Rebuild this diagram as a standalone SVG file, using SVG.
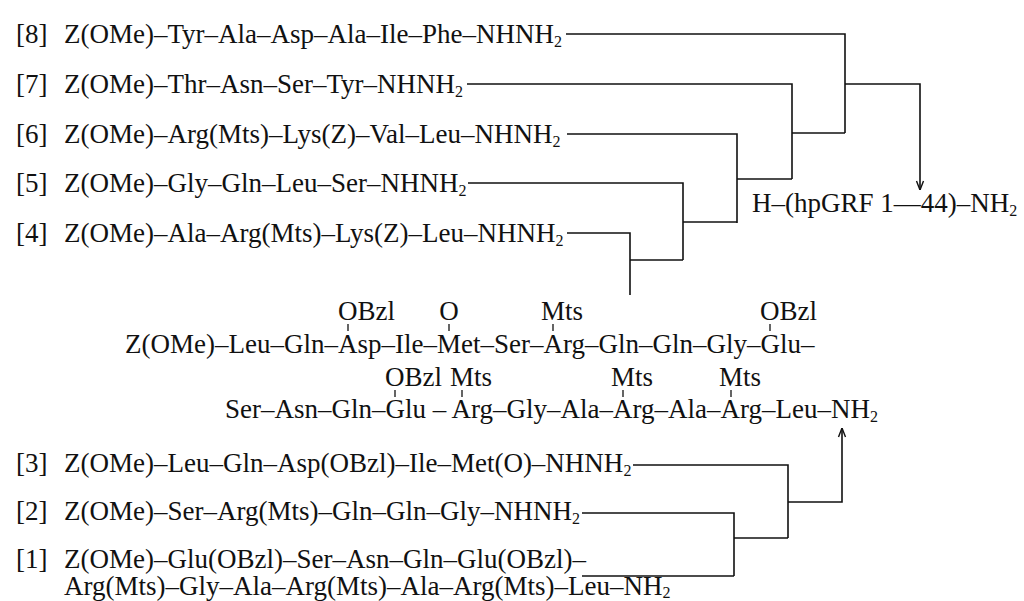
<svg xmlns="http://www.w3.org/2000/svg" width="1024" height="601" viewBox="0 0 1024 601">
<style>
text{font-family:"Liberation Serif","Times New Roman",serif;font-size:27px;fill:#111}
.sub{font-size:16px}
.c{fill:none;stroke:#111;stroke-width:1.6}
.tk{stroke:#111;stroke-width:1.3}
</style>
<defs>
<marker id="ah" viewBox="0 0 10 10" refX="10" refY="5" markerWidth="10" markerHeight="10" markerUnits="userSpaceOnUse" orient="auto">
<path d="M1,1.5 L10,5 L1,8.5" fill="none" stroke="#111" stroke-width="1.4"/>
</marker>
</defs>
<rect width="1024" height="601" fill="#fff"/>
<g id="frag8"><text x="16" y="43">[8]</text><text x="64" y="43">Z(OMe)–Tyr–Ala–Asp–Ala–Ile–Phe–NHNH<tspan class="sub" dy="4">2</tspan></text></g>
<g id="frag7"><text x="16" y="93">[7]</text><text x="64" y="93">Z(OMe)–Thr–Asn–Ser–Tyr–NHNH<tspan class="sub" dy="4">2</tspan></text></g>
<g id="frag6"><text x="16" y="143">[6]</text><text x="64" y="143">Z(OMe)–Arg(Mts)–Lys(Z)–Val–Leu–NHNH<tspan class="sub" dy="4">2</tspan></text></g>
<g id="frag5"><text x="16" y="192">[5]</text><text x="64" y="192">Z(OMe)–Gly–Gln–Leu–Ser–NHNH<tspan class="sub" dy="4">2</tspan></text></g>
<g id="frag4"><text x="16" y="242">[4]</text><text x="64" y="242">Z(OMe)–Ala–Arg(Mts)–Lys(Z)–Leu–NHNH<tspan class="sub" dy="4">2</tspan></text></g>
<g id="product"><text x="752" y="212">H–(hpGRF 1—44)–NH<tspan class="sub" dy="4">2</tspan></text></g>
<g id="intermediate">
<text x="338" y="320">OBzl</text>
<text x="449" y="320" text-anchor="middle">O</text>
<text x="541" y="320">Mts</text>
<text x="760" y="320">OBzl</text>
<line class="tk" x1="348" y1="324" x2="348" y2="331"/>
<line class="tk" x1="449" y1="324" x2="449" y2="331"/>
<line class="tk" x1="553" y1="324" x2="553" y2="331"/>
<line class="tk" x1="770" y1="324" x2="770" y2="331"/>
<text x="125" y="353">Z(OMe)–Leu–Gln–Asp–Ile–Met–Ser–Arg–Gln–Gln–Gly–Glu–</text>
<text x="385" y="386">OBzl</text>
<text x="450" y="386">Mts</text>
<text x="611" y="386">Mts</text>
<text x="719" y="386">Mts</text>
<line class="tk" x1="395" y1="390" x2="395" y2="397"/>
<line class="tk" x1="462" y1="390" x2="462" y2="397"/>
<line class="tk" x1="623" y1="390" x2="623" y2="397"/>
<line class="tk" x1="731" y1="390" x2="731" y2="397"/>
<text x="225" y="418">Ser–Asn–Gln–Glu – Arg–Gly–Ala–Arg–Ala–Arg–Leu–NH<tspan class="sub" dy="4">2</tspan></text>
</g>
<g id="frag3"><text x="16" y="472">[3]</text><text x="64" y="472">Z(OMe)–Leu–Gln–Asp(OBzl)–Ile–Met(O)–NHNH<tspan class="sub" dy="4">2</tspan></text></g>
<g id="frag2"><text x="16" y="520">[2]</text><text x="64" y="520">Z(OMe)–Ser–Arg(Mts)–Gln–Gln–Gly–NHNH<tspan class="sub" dy="4">2</tspan></text></g>
<g id="frag1"><text x="16" y="568">[1]</text><text x="64" y="568">Z(OMe)–Glu(OBzl)–Ser–Asn–Gln–Glu(OBzl)–</text><text x="64" y="595">Arg(Mts)–Gly–Ala–Arg(Mts)–Ala–Arg(Mts)–Leu–NH<tspan class="sub" dy="3">2</tspan></text></g>
<g id="connectors">
<polyline class="c" points="566,34 845,34 845,133"/>
<polyline class="c" points="467,84 792,84 792,179"/>
<polyline class="c" points="567,134 737,134 737,223"/>
<polyline class="c" points="468,183 683,183 683,260"/>
<polyline class="c" points="567,233 630,233 630,295"/>
<line class="c" x1="630" y1="260" x2="683" y2="260"/>
<line class="c" x1="683" y1="222" x2="737" y2="222"/>
<line class="c" x1="737" y1="179" x2="792" y2="179"/>
<line class="c" x1="792" y1="133" x2="845" y2="133"/>
<polyline class="c" points="845,84 920,84 920,190" marker-end="url(#ah)"/>
<polyline class="c" points="633,465 788,465 788,538"/>
<polyline class="c" points="582,513 734,513 734,576"/>
<line class="c" x1="582" y1="576" x2="734" y2="576"/>
<line class="c" x1="734" y1="538" x2="788" y2="538"/>
<polyline class="c" points="788,502 842,502 842,428" marker-end="url(#ah)"/>
</g>
</svg>
